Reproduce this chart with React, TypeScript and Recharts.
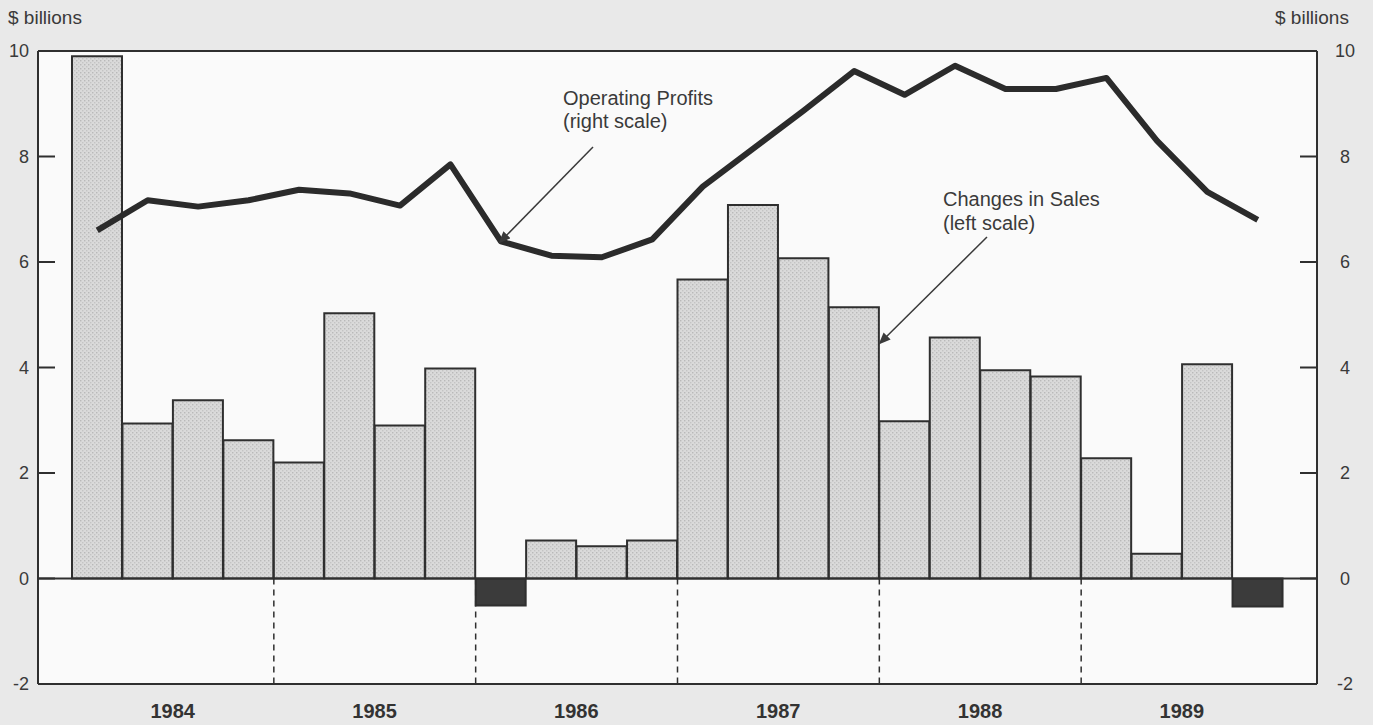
import React from 'react';
import {
  ComposedChart,
  Bar,
  Line,
  Cell,
  XAxis,
  YAxis,
  CartesianGrid,
  ReferenceLine,
} from 'recharts';

// quarterly data, 1984 Q1 .. 1989 Q4
const years = ['1984', '1985', '1986', '1987', '1988', '1989'];
const quarters = years.flatMap((y) => ['Q1', 'Q2', 'Q3', 'Q4'].map((q) => `${y}${q}`));

// Changes in Sales, left scale ($ billions)
const salesChange = [
  9.9, 2.94, 3.38, 2.62,
  2.2, 5.03, 2.9, 3.98,
  -0.51, 0.72, 0.61, 0.72,
  5.67, 7.08, 6.07, 5.14,
  2.98, 4.57, 3.95, 3.83,
  2.28, 0.47, 4.06, -0.53,
];

// Operating Profits, right scale ($ billions)
const operatingProfits = [
  6.6, 7.17, 7.05, 7.17,
  7.37, 7.3, 7.07, 7.85,
  6.39, 6.12, 6.09, 6.43,
  7.43, 8.15, 8.87, 9.62,
  9.17, 9.72, 9.28, 9.28,
  9.49, 8.3, 7.33, 6.8,
];

const yTicks = [-2, 0, 2, 4, 6, 8, 10];

const chartData = quarters.map((q, i) => ({
  q,
  sales: salesChange[i],
  profits: operatingProfits[i],
}));

const FONT = '"Liberation Sans", Arial, Helvetica, sans-serif';
const INK = '#2f2f2f';

const LeftTick = (props: any) => {
  const { x, y, payload } = props;
  return (
    <g>
      <line x1={x} x2={x + 17} y1={y} y2={y} stroke={INK} strokeWidth={2} />
      <text x={x - 9} y={y} dy={6} textAnchor="end" fontSize={18} fill="#3a3a3a" fontFamily={FONT}>
        {payload.value}
      </text>
    </g>
  );
};

const RightTick = (props: any) => {
  const { x, y, payload } = props;
  return (
    <g>
      <line x1={x - 17} x2={x} y1={y} y2={y} stroke={INK} strokeWidth={2} />
      <text x={x + 28} y={y} dy={6} textAnchor="middle" fontSize={18} fill="#3a3a3a" fontFamily={FONT}>
        {payload.value}
      </text>
    </g>
  );
};

// year label sits between 2nd and 3rd quarter
const YearTick = (props: any) => {
  const { x, y, payload, index } = props;
  if (index % 4 !== 1) return null;
  const year = String(payload.value).slice(0, 4);
  return (
    <text x={x + 25} y={y + 26} textAnchor="middle" fontSize={20} fontWeight="bold" fill="#333" fontFamily={FONT}>
      {year}
    </text>
  );
};

const App: React.FC = () => {
  return (
    <div style={{ position: 'absolute', left: 0, top: 0, width: 1373, height: 725, background: '#e9e9e9', fontFamily: FONT }}>
      <svg width={0} height={0} style={{ position: 'absolute' }}>
        <defs>
          <pattern id="stipple" width={4} height={4} patternUnits="userSpaceOnUse">
            <rect width={4} height={4} fill="#dadada" />
            <rect x={0} y={0} width={1.4} height={1.4} fill="#b9b9b9" />
            <rect x={2} y={2} width={1.4} height={1.4} fill="#c4c4c4" />
          </pattern>
        </defs>
      </svg>

      <ComposedChart
        width={1373}
        height={725}
        data={chartData}
        margin={{ top: 51, right: 0, bottom: 0, left: 0 }}
        barCategoryGap={0}
        barGap={0}
      >
        <CartesianGrid horizontal={false} vertical={false} fill="#fafafa" />
        <XAxis
          dataKey="q"
          height={41}
          padding={{ left: 34, right: 34 }}
          axisLine={{ stroke: INK, strokeWidth: 2 }}
          tickLine={false}
          interval={0}
          tick={<YearTick />}
        />
        <YAxis
          yAxisId="left"
          orientation="left"
          width={38}
          domain={[-2, 10]}
          ticks={yTicks}
          allowDataOverflow
          axisLine={{ stroke: INK, strokeWidth: 2 }}
          tickLine={false}
          tickSize={0}
          tickMargin={0}
          tick={<LeftTick />}
        />
        <YAxis
          yAxisId="right"
          orientation="right"
          width={56}
          domain={[-2, 10]}
          ticks={yTicks}
          allowDataOverflow
          axisLine={{ stroke: INK, strokeWidth: 2 }}
          tickLine={false}
          tickSize={0}
          tickMargin={0}
          tick={<RightTick />}
        />

        {/* top frame + zero line */}
        <ReferenceLine yAxisId="left" y={10} stroke={INK} strokeWidth={2} />

        {/* dashed year separators below zero */}
        {years.slice(1).map((y) => (
          <ReferenceLine
            key={y}
            yAxisId="left"
            position="start"
            segment={[
              { x: `${y}Q1`, y: 0 },
              { x: `${y}Q1`, y: -2 },
            ]}
            stroke={INK}
            strokeWidth={1.5}
            strokeDasharray="6 5"
          />
        ))}

        <Bar yAxisId="left" dataKey="sales" stroke={INK} strokeWidth={2} isAnimationActive={false}>
          {chartData.map((d, i) => (
            <Cell key={`c-${i}`} fill={d.sales < 0 ? '#3b3b3b' : 'url(#stipple)'} />
          ))}
        </Bar>
        <ReferenceLine yAxisId="left" y={0} stroke={INK} strokeWidth={2} />
        <Line
          yAxisId="right"
          dataKey="profits"
          type="linear"
          stroke="#2b2b2b"
          strokeWidth={6}
          dot={false}
          strokeLinejoin="round"
          isAnimationActive={false}
        />
      </ComposedChart>

      {/* annotations and axis unit labels */}
      <svg width={1373} height={725} style={{ position: 'absolute', left: 0, top: 0, pointerEvents: 'none' }}>
        <defs>
          <marker id="arrow" markerWidth={12} markerHeight={10} refX={10} refY={5} orient="auto" markerUnits="userSpaceOnUse">
            <path d="M0,0 L12,5 L0,10 Z" fill="#3a3a3a" />
          </marker>
        </defs>
        <text x={8} y={24} fontSize={19} fill="#3a3a3a" fontFamily={FONT}>$ billions</text>
        <text x={1275} y={24} fontSize={19} fill="#3a3a3a" fontFamily={FONT}>$ billions</text>

        <text x={563} y={105} fontSize={20} fill="#3a3a3a" fontFamily={FONT}>Operating Profits</text>
        <text x={563} y={128} fontSize={20} fill="#3a3a3a" fontFamily={FONT}>(right scale)</text>
        <line x1={593} y1={147} x2={500} y2={242} stroke="#3a3a3a" strokeWidth={1.5} markerEnd="url(#arrow)" />

        <text x={943} y={206} fontSize={20} fill="#3a3a3a" fontFamily={FONT}>Changes in Sales</text>
        <text x={943} y={230} fontSize={20} fill="#3a3a3a" fontFamily={FONT}>(left scale)</text>
        <line x1={987} y1={237} x2={880} y2={343} stroke="#3a3a3a" strokeWidth={1.5} markerEnd="url(#arrow)" />
      </svg>
    </div>
  );
};

export default App;
